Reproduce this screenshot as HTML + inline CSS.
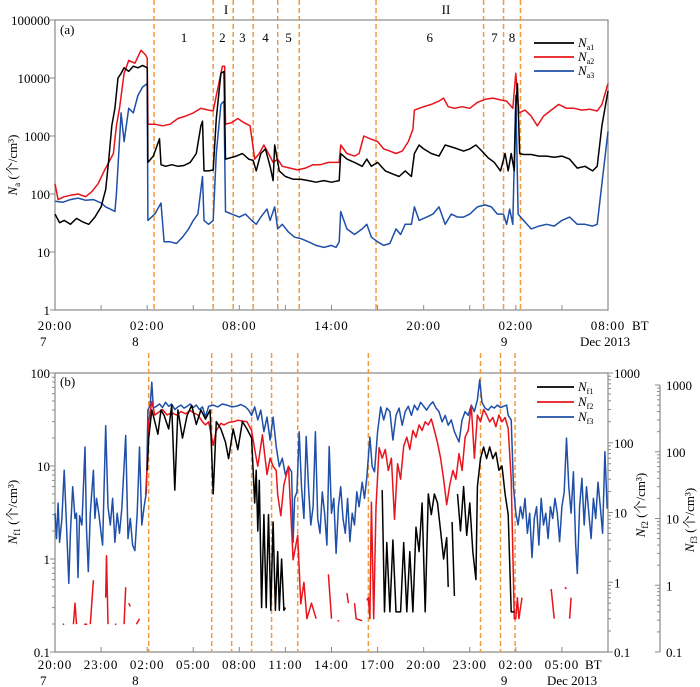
<!DOCTYPE html>
<html><head><meta charset="utf-8"><style>
html,body{margin:0;padding:0;background:#fff;}
svg{display:block;font-family:"Liberation Serif","Noto Serif CJK SC","Noto Sans CJK SC",serif;}
</style></head><body>
<svg id="chart" width="700" height="687" viewBox="0 0 700 687" xmlns="http://www.w3.org/2000/svg"></svg>
<script>
// ---- data ----
const na1 = [[0,45],[0.3,32],[0.6,35],[1,30],[1.4,38],[1.8,33],[2.2,30],[2.6,40],[3.0,60],[3.3,120],[3.5,400],[3.7,1500],[3.9,3000],[4.1,10000],[4.3,12000],[4.5,15000],[4.8,13000],[5.1,16000],[5.4,15000],[5.7,16500],[6.0,15000],[6.05,350],[6.4,450],[6.8,900],[6.9,320],[7.2,300],[7.6,320],[8,300],[8.4,310],[8.8,350],[9.2,500],[9.5,1500],[9.6,1800],[9.7,250],[10.0,250],[10.3,260],[10.5,2000],[10.8,12000],[11.0,13000],[11.1,400],[11.4,420],[11.8,450],[12.2,500],[12.6,400],[12.9,380],[13.1,250],[13.4,500],[13.7,600],[14.0,300],[14.2,170],[14.3,700],[14.6,250],[15,200],[15.5,180],[16,180],[16.5,170],[17,160],[17.5,170],[18,160],[18.5,170],[18.6,500],[19,400],[19.5,350],[20,300],[20.3,400],[20.6,300],[21,350],[21.5,250],[22,220],[22.4,200],[22.8,250],[23.2,200],[23.4,500],[23.7,700],[24,600],[24.5,500],[25,450],[25.4,700],[25.8,650],[26.2,600],[26.6,550],[27,600],[27.4,700],[27.8,550],[28.2,420],[28.6,350],[29,250],[29.3,500],[29.5,250],[29.7,500],[29.9,250],[30.0,3000],[30.1,8000],[30.25,500],[30.5,480],[31,480],[31.5,450],[32,450],[32.5,430],[33,450],[33.5,400],[34,280],[34.5,300],[35,250],[35.3,300],[35.6,1500],[36,6000]];
const na2 = [[0,150],[0.2,80],[0.6,90],[1,95],[1.5,100],[2,90],[2.4,110],[2.8,150],[3.2,250],[3.5,350],[3.8,500],[4.0,1500],[4.2,3000],[4.5,12000],[4.8,20000],[5.2,18000],[5.6,30000],[5.9,25000],[6.0,22000],[6.05,1600],[6.5,1600],[7,1500],[7.5,1600],[8,2000],[8.5,2200],[9,2500],[9.5,3000],[10,2800],[10.3,2700],[10.5,5000],[10.9,16000],[11.05,16000],[11.1,1600],[11.5,1700],[11.9,2000],[12.3,1700],[12.7,1500],[13.0,400],[13.3,500],[13.6,700],[13.9,500],[14.2,350],[14.5,400],[14.8,300],[15.3,280],[15.8,260],[16.3,280],[16.8,320],[17.3,320],[17.8,350],[18.3,350],[18.5,350],[18.6,700],[19,500],[19.5,450],[19.8,500],[20.1,1000],[20.5,900],[21,800],[21.4,600],[21.8,550],[22.2,500],[22.6,550],[23.0,800],[23.3,1300],[23.4,2800],[24,3200],[24.5,3500],[25,4000],[25.3,4500],[25.6,3200],[26,3000],[26.5,3200],[27,3000],[27.5,3800],[28,4300],[28.5,4500],[29,4200],[29.4,4000],[29.8,3000],[30.0,12000],[30.2,2500],[30.6,2800],[31,2200],[31.4,1500],[31.8,2200],[32.3,2800],[32.8,3500],[33.3,3000],[33.8,3000],[34.3,2800],[34.8,2900],[35.3,2700],[35.6,3500],[36,8000]];
const na3 = [[0,75],[0.5,72],[1,80],[1.5,85],[2,78],[2.5,80],[3,70],[3.3,60],[3.6,55],[3.9,50],[4.0,100],[4.3,2500],[4.5,800],[4.8,3000],[5.1,2500],[5.4,5000],[5.7,7000],[6.0,8000],[6.05,35],[6.5,45],[6.9,70],[7.1,15],[7.5,15],[7.9,14],[8.3,18],[8.7,25],[9.0,35],[9.3,45],[9.6,200],[9.7,35],[10,30],[10.3,35],[10.5,500],[10.8,3500],[11.0,4000],[11.1,50],[11.5,45],[12,40],[12.4,45],[12.8,35],[13.1,30],[13.4,40],[13.8,55],[14.0,35],[14.3,60],[14.5,25],[14.8,30],[15.2,22],[15.6,18],[16.0,17],[16.5,15],[17,13],[17.5,12],[18.0,13],[18.3,12],[18.5,15],[18.6,50],[19,25],[19.5,20],[20,25],[20.3,30],[20.6,18],[21,15],[21.4,13],[21.8,14],[22.2,25],[22.5,20],[22.8,30],[23.2,30],[23.4,60],[23.7,35],[24.2,40],[24.6,45],[25,60],[25.4,30],[25.8,45],[26.2,40],[26.6,40],[27,45],[27.5,60],[28,65],[28.4,60],[28.8,45],[29.2,45],[29.4,30],[29.6,55],[29.8,30],[30.0,5000],[30.15,45],[30.5,35],[31,25],[31.5,28],[32,30],[32.5,28],[33,35],[33.5,40],[34,30],[34.5,30],[35,28],[35.3,30],[35.6,150],[36,1200]];
const nf1 = [[6.0,9],[6.1,20],[6.3,40],[6.5,30],[6.7,22],[6.9,40],[7.1,35],[7.4,25],[7.6,45],[7.8,5.5],[8.0,40],[8.3,20],[8.6,35],[8.9,45],[9.2,28],[9.5,40],[9.8,32],[10.1,40],[10.3,5],[10.5,30],[10.8,25],[11.1,18],[11.3,12],[11.6,25],[11.9,15],[12.2,30],[12.5,25],[12.8,20],[13.0,4],[13.1,9],[13.2,2],[13.3,7],[13.45,0.3],[13.6,3],[13.75,0.3],[13.9,3],[14.05,0.28],[14.2,2.5],[14.35,0.28],[14.5,1.2],[14.6,0.28],[14.75,1],[14.9,0.28],[15.0,0.3],null,[21.3,5.5],[21.45,0.27],[21.6,1.5],[21.8,0.27],[22.0,1.6],[22.2,0.27],[22.5,0.27],[22.7,1.5],[22.9,0.27],[23.1,1.2],[23.3,0.27],[23.5,2.2],[23.7,1.2],[23.9,4],[24.1,0.27],[24.3,5],[24.5,3],[24.7,5],[24.9,4],[25.1,2],[25.3,1],[25.5,1.7],[25.6,0.5],null,[25.85,2.5],[26.0,0.4],null,[26.2,5],[26.4,2],[26.6,6],[26.8,1.8],[27.0,4],[27.2,1.2],[27.4,0.6],[27.5,6],[27.7,12],[27.9,16],[28.1,12],[28.3,16],[28.5,12],[28.7,14],[28.9,9],[29.1,10],[29.3,5],[29.5,3],[29.7,0.27],[29.9,0.27]];
const nf2 = [[0.5,0.25],[0.6,0.25],null,[1.2,0.25],[1.3,0.5],[1.4,0.25],null,[1.9,0.25],[2.1,0.25],null,[2.3,0.25],[2.5,1.07],null,[3.3,0.6],[3.35,2.4],[3.45,0.25],null,[3.9,0.25],[4.0,0.25],null,[4.5,0.25],[4.6,0.85],null,[4.8,0.5],[4.9,0.45],null,[5.3,0.25],[5.5,0.3],null,[5.9,18],[6.0,46],[6.1,195],[6.3,390],[6.5,250],[6.8,280],[7.0,300],[7.3,250],[7.6,270],[7.9,250],[8.2,280],[8.5,260],[8.8,290],[9.0,270],[9.3,250],[9.6,200],[9.8,180],[10.0,200],[10.3,92],[10.5,150],[10.8,190],[11.0,180],[11.3,195],[11.6,200],[11.9,210],[12.2,205],[12.5,200],[12.8,150],[13.0,80],[13.2,46],[13.5,130],[13.8,35],[14.0,60],[14.2,46],[14.4,40],[14.5,18],[14.7,9],[14.9,25],[15.2,46],[15.5,2.1],[15.8,4.7],[16.0,0.49],[16.2,1.0],[16.4,0.3],[16.7,0.5],[17.0,0.3],null,[17.8,1.3],[18.0,0.3],null,[18.4,0.28],[18.5,0.28],null,[19.0,0.7],[19.1,0.5],null,[19.5,0.5],[19.6,0.3],[20.0,0.28],null,[20.3,0.55],[20.4,0.6],[20.5,0.3],[20.6,14],[20.75,0.3],[20.9,12],[21.1,85],[21.3,60],[21.5,80],[21.7,40],[21.9,60],[22.1,8],[22.3,50],[22.5,30],[22.7,90],[22.9,120],[23.1,80],[23.3,150],[23.5,120],[23.7,180],[23.9,150],[24.1,200],[24.3,180],[24.5,220],[24.7,150],[24.9,100],[25.1,60],[25.3,30],[25.5,13],[25.7,25],[25.9,40],[26.1,30],[26.3,70],[26.5,40],[26.7,120],[26.9,150],[27.1,340],[27.3,60],[27.5,250],[27.7,200],[27.9,300],[28.1,250],[28.3,200],[28.5,230],[28.7,170],[28.9,250],[29.1,200],[29.3,230],[29.5,160],[29.7,30],[29.9,0.3],[30.0,0.3],[30.1,0.6],[30.2,0.3],[30.4,0.6],null,[32.3,0.8],[32.5,0.3],null,[33.2,0.85],[33.3,0.8],null,[33.5,0.3],[33.6,0.6]];
const nf3 = [[0,12],[0.1,5],[0.2,17],[0.3,4.4],[0.45,10],[0.6,53],[0.75,8],[0.9,1.07],[1.0,6],[1.15,30],[1.3,10],[1.4,12],[1.5,1.3],[1.6,11],[1.75,8],[1.95,118],[2.05,7],[2.17,1.6],[2.3,12],[2.5,53],[2.6,10],[2.7,20],[2.85,12],[3.0,6],[3.1,4],[3.3,245],[3.45,15],[3.6,8],[3.75,20],[3.9,4.4],[4.05,12],[4.2,6],[4.35,14],[4.6,175],[4.75,5],[4.9,10],[5.05,4],[5.2,3.3],[5.35,12],[5.5,118],[5.65,8],[5.8,15],[5.95,25],[6.05,420],[6.2,500],[6.3,1100],[6.4,450],[6.6,480],[6.8,520],[7.0,460],[7.2,550],[7.4,480],[7.6,520],[7.8,430],[8.0,470],[8.2,500],[8.4,450],[8.6,480],[8.8,520],[9.0,460],[9.2,500],[9.4,430],[9.6,470],[9.8,330],[10.0,480],[10.3,500],[10.6,470],[10.9,520],[11.2,500],[11.5,470],[11.8,480],[12.1,510],[12.4,470],[12.6,420],[12.8,350],[13.0,470],[13.2,300],[13.4,420],[13.6,200],[13.8,330],[14.0,150],[14.2,330],[14.4,120],[14.6,60],[14.8,80],[15.0,45],[15.2,60],[15.4,50],[15.5,4.4],[15.6,20],[15.75,25],[15.9,200],[16.05,30],[16.2,10],[16.35,170],[16.5,30],[16.65,8],[16.8,15],[16.95,200],[17.1,10],[17.25,6],[17.4,25],[17.55,12],[17.7,4],[17.85,120],[18.0,12],[18.15,20],[18.3,3],[18.45,15],[18.6,30],[18.75,10],[18.9,6],[19.05,20],[19.2,4.5],[19.35,12],[19.5,8],[19.65,25],[19.8,15],[20.0,35],[20.15,20],[20.3,41],[20.5,166],[20.65,60],[20.8,50],[21.0,200],[21.2,470],[21.4,300],[21.6,450],[21.8,400],[22.0,150],[22.2,350],[22.4,450],[22.6,250],[22.8,400],[23.0,480],[23.2,350],[23.4,500],[23.6,420],[23.8,550],[24.0,480],[24.2,420],[24.4,500],[24.6,560],[24.8,450],[25.0,400],[25.2,280],[25.4,350],[25.6,250],[25.8,300],[26.0,200],[26.3,140],[26.5,300],[26.7,400],[26.9,350],[27.1,500],[27.3,400],[27.5,600],[27.65,1200],[27.8,550],[28.0,450],[28.2,420],[28.4,480],[28.6,450],[28.8,500],[29.0,460],[29.2,480],[29.4,500],[29.5,350],[29.7,300],[29.85,30],[30.0,12],[30.15,8],[30.3,15],[30.45,10],[30.6,20],[30.75,6],[30.9,12],[31.05,2.6],[31.2,10],[31.35,15],[31.5,4],[31.65,20],[31.8,8],[31.95,12],[32.1,5],[32.25,15],[32.4,10],[32.55,20],[32.7,12],[32.85,4.5],[33.0,15],[33.15,25],[33.3,160],[33.45,30],[33.6,12],[33.75,50],[33.9,4],[34.0,1.5],[34.15,15],[34.3,40],[34.45,8],[34.6,30],[34.75,12],[34.9,5],[35.05,20],[35.2,10],[35.35,35],[35.5,15],[35.65,6],[35.8,100],[35.95,14]];
const dashesA = [6.45,10.3,11.6,12.9,14.5,15.9,20.9,27.9,29.2,30.3];
const dashesB = [6.1,10.2,11.5,12.8,14.1,15.8,20.4,27.7,29.0,29.95];
const regionLabels = ["1","2","3","4","5","6","7","8"];
const regionPos = [8.4,10.9,12.2,13.7,15.2,24.4,28.6,29.75];
const ticksA = ["20:00","02:00","08:00","14:00","20:00","02:00","08:00"];
const ticksB = ["20:00","23:00","02:00","05:00","08:00","11:00","14:00","17:00","20:00","23:00","02:00","05:00"];
const yTicksA = ["1","10","100","1000","10000","100000"];
const yTicksB = ["0.1","1","10","100"];
const yTicksB2 = ["0.1","1","10","100","1000"];

// ---- geometry ----
const svg = document.getElementById('chart');
const NS = 'http://www.w3.org/2000/svg';
const X0 = 55, X1 = 608;
const xs = h => X0 + h * (X1 - X0) / 36;
const yA = v => 310 - Math.log10(v) * 58;
const yB1 = v => 652 - (Math.log10(v) + 1) * 93;
const yB2 = v => 652 - (Math.log10(v) + 1) * 69.75;
const yB3 = v => 652 - (Math.log10(v) + 1) * 66.75;
const C1 = '#000', C2 = '#e8141c', C3 = '#1f4fa8', OR = '#f39a3c', GR = '#8a8a8a';

function mk(tag, attrs, text) {
  const e = document.createElementNS(NS, tag);
  for (const k in attrs) e.setAttribute(k, attrs[k]);
  if (text !== undefined) e.textContent = text;
  svg.appendChild(e);
  return e;
}
function pathFrom(data, ys) {
  let d = '', pen = false;
  for (const p of data) {
    if (!p) { pen = false; continue; }
    d += (pen ? 'L' : 'M') + xs(p[0]).toFixed(1) + ',' + ys(p[1]).toFixed(1);
    pen = true;
  }
  return d;
}

// panel a frame
let el = mk('rect', {x: X0, y: 20, width: X1 - X0, height: 290, fill: 'none', stroke: GR, 'stroke-width': 1.2});


el = mk('text', {x: 60, y: 34, 'font-size': 13}, '(a)');



yTicksA.forEach((t, i) => {
  const v = Math.pow(10, i), y = yA(v);
  let tk = mk('line', {x1: X0 - 5, x2: X0, y1: y, y2: y, stroke: GR, 'stroke-width': 1});
  
  
  let lb = mk('text', {x: X0 - 5, y: y + 5, 'font-size': 13, 'text-anchor': 'end'}, t);
  
  
});
for (let h = 3; h < 36; h += 3) {
  let tk = mk('line', {x1: xs(h), x2: xs(h), y1: 310, y2: 305, stroke: GR, 'stroke-width': 1});
  
  
}
ticksA.forEach((t, i) => {
  const x = xs(i * 6);
  let lb = mk('text', {x: x, y: 330, 'font-size': 13, 'text-anchor': 'middle', 'letter-spacing': '1'}, t);
  
  
});
[['7', 0], ['8', 6], ['9', 30]].forEach(d => {
  let lb = mk('text', {x: xs(d[1]) - 15, y: 346, 'font-size': 13}, d[0]);
  
  
});
el = mk('text', {x: 632, y: 330, 'font-size': 13}, 'BT');


el = mk('text', {x: 580, y: 346, 'font-size': 13}, 'Dec 2013');



el = mk('text', {transform: 'translate(17,165) rotate(-90)', 'font-size': 13, 'text-anchor': 'middle'});
el.innerHTML = '<tspan font-style="italic">N</tspan><tspan font-size="9" dy="3">a</tspan><tspan dy="-3"> (个/cm³)</tspan>';



dashesA.forEach(h => {
  let ln = mk('line', {x1: xs(h), x2: xs(h), y1: 0, y2: 310, stroke: OR, 'stroke-width': 1.5, 'stroke-dasharray': '5,3'});
  
  
});
regionLabels.forEach((t, i) => {
  let lb = mk('text', {x: xs(regionPos[i]), y: 42, 'font-size': 13, 'text-anchor': 'middle'}, t);
  
  
});
el = mk('text', {x: 226, y: 14, 'font-size': 13, 'text-anchor': 'middle'}, 'I');


el = mk('text', {x: 446, y: 14, 'font-size': 13, 'text-anchor': 'middle'}, 'II');



el = mk('path', {d: pathFrom(na3, yA), fill: 'none', stroke: C3, 'stroke-width': 1.5, 'stroke-linejoin': 'round'});


el = mk('path', {d: pathFrom(na2, yA), fill: 'none', stroke: C2, 'stroke-width': 1.5, 'stroke-linejoin': 'round'});


el = mk('path', {d: pathFrom(na1, yA), fill: 'none', stroke: C1, 'stroke-width': 1.5, 'stroke-linejoin': 'round'});



[['a1', C1, 43], ['a2', C2, 57], ['a3', C3, 71]].forEach(d => {
  let ln = mk('line', {x1: 534, x2: 574, y1: d[2], y2: d[2], stroke: d[1], 'stroke-width': 1.8});
  
  
  let lb = mk('text', {x: 578, y: d[2] + 4, 'font-size': 13});
  lb.innerHTML = '<tspan font-style="italic">N</tspan><tspan font-size="8" dy="3">' + d[0] + '</tspan>';
  
  
});

// ---- panel b ----
el = mk('line', {x1: X0, x2: X1, y1: 373, y2: 373, stroke: GR, 'stroke-width': 1.2});


el = mk('path', {d: 'M' + X0 + ',373V652H' + X1 + 'V373', fill: 'none', stroke: GR, 'stroke-width': 1.2});


el = mk('line', {x1: 660, x2: 660, y1: 385, y2: 652, stroke: GR, 'stroke-width': 1.2});


el = mk('text', {x: 60, y: 386, 'font-size': 13}, '(b)');



function logTicks(n, yf, xAxis, dir, labels, lx, anchor, name) {
  for (let i = 0; i < n; i++) {
    const base = Math.pow(10, i - 1);
    for (let m = 1; m < 10; m++) {
      if (i === n - 1 && m > 1) break;
      const y = yf(base * m);
      const len = m === 1 ? 5 : 3;
      let tk = mk('line', {x1: xAxis, x2: xAxis + dir * len, y1: y, y2: y, stroke: GR, 'stroke-width': 1});
      
      
    }
    let lb = mk('text', {x: lx, y: yf(base) + 5, 'font-size': 13, 'text-anchor': anchor}, labels[i]);
    
    
  }
}
logTicks(4, yB1, X0, -1, yTicksB, X0 - 5, 'end', 'nf1-axis');
logTicks(5, yB2, X1, 1, yTicksB2, X1 + 6, 'start', 'nf2-axis');
logTicks(5, yB3, 660, -1, yTicksB2, 666, 'start', 'nf3-axis');

for (let h = 3; h < 36; h += 3) {
  let tk = mk('line', {x1: xs(h), x2: xs(h), y1: 652, y2: 647, stroke: GR, 'stroke-width': 1});
  
  
}
ticksB.forEach((t, i) => {
  let lb = mk('text', {x: xs(i * 3), y: 669, 'font-size': 13, 'text-anchor': 'middle', 'letter-spacing': '1'}, t);
  
  
});
[['7', 0], ['8', 6], ['9', 30]].forEach(d => {
  let lb = mk('text', {x: xs(d[1]) - 15, y: 685, 'font-size': 13}, d[0]);
  
  
});
el = mk('text', {x: 585, y: 669, 'font-size': 13}, 'BT');


el = mk('text', {x: 547, y: 685, 'font-size': 13}, 'Dec 2013');



el = mk('text', {transform: 'translate(17,512) rotate(-90)', 'font-size': 13, 'text-anchor': 'middle'});
el.innerHTML = '<tspan font-style="italic">N</tspan><tspan font-size="9" dy="3">f1</tspan><tspan dy="-3"> (个/cm³)</tspan>';


el = mk('text', {transform: 'translate(645,505) rotate(-90)', 'font-size': 13, 'text-anchor': 'middle'});
el.innerHTML = '<tspan font-style="italic">N</tspan><tspan font-size="9" dy="3">f2</tspan><tspan dy="-3"> (个/cm³)</tspan>';


el = mk('text', {transform: 'translate(694,520) rotate(-90)', 'font-size': 13, 'text-anchor': 'middle'});
el.innerHTML = '<tspan font-style="italic">N</tspan><tspan font-size="9" dy="3">f3</tspan><tspan dy="-3"> (个/cm³)</tspan>';



dashesB.forEach(h => {
  let ln = mk('line', {x1: xs(h), x2: xs(h), y1: 353, y2: 652, stroke: OR, 'stroke-width': 1.5, 'stroke-dasharray': '5,3'});
  
  
});

el = mk('path', {d: pathFrom(nf3, yB3), fill: 'none', stroke: C3, 'stroke-width': 1.5, 'stroke-linejoin': 'round'});


el = mk('path', {d: pathFrom(nf2, yB2), fill: 'none', stroke: C2, 'stroke-width': 1.5, 'stroke-linejoin': 'round'});


el = mk('path', {d: pathFrom(nf1, yB1), fill: 'none', stroke: C1, 'stroke-width': 1.5, 'stroke-linejoin': 'round'});



[['f1', C1, 387], ['f2', C2, 402], ['f3', C3, 417]].forEach(d => {
  let ln = mk('line', {x1: 537, x2: 574, y1: d[2], y2: d[2], stroke: d[1], 'stroke-width': 1.8});
  
  
  let lb = mk('text', {x: 578, y: d[2] + 4, 'font-size': 13});
  lb.innerHTML = '<tspan font-style="italic">N</tspan><tspan font-size="8" dy="3">' + d[0] + '</tspan>';
  
  
});
</script>
</body></html>
